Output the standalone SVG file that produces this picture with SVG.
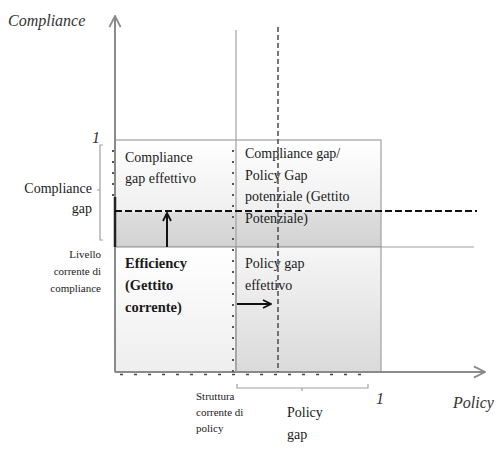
<svg xmlns="http://www.w3.org/2000/svg" width="498" height="450" viewBox="0 0 498 450" font-family="'Liberation Serif', 'Times New Roman', 'DejaVu Serif', serif">
<defs>
<style>
text{font-family:'Liberation Serif','Times New Roman','DejaVu Serif',serif;fill:#1a1a1a}
.lbl{font-size:14px}
.sm{font-size:11px}
.it{font-style:italic;font-size:16px;fill:#333}
.b{font-weight:bold;font-size:14.5px}
.axis{stroke:#8a8a8a;stroke-width:2;fill:none}
.thin{stroke:#a0a0a0;stroke-width:1.2;fill:none}
.dash{stroke:#111;stroke-width:2.2;stroke-dasharray:7,3;fill:none}
.vdash{stroke:#555;stroke-width:1.6;stroke-dasharray:5,3;fill:none}
.dots{stroke:#555;stroke-width:2;stroke-dasharray:2,9;fill:none}
.arr{stroke:#111;stroke-width:2;fill:none}
</style>
<linearGradient id="gTop" x1="0" y1="0" x2="0" y2="1"><stop offset="0" stop-color="#ffffff"/><stop offset="1" stop-color="#efefef"/></linearGradient>
<linearGradient id="gBand" x1="0" y1="0" x2="0" y2="1"><stop offset="0" stop-color="#dedede"/><stop offset="1" stop-color="#d2d2d2"/></linearGradient>
<linearGradient id="gBR" x1="0" y1="0" x2="0" y2="1"><stop offset="0" stop-color="#f6f6f6"/><stop offset="1" stop-color="#dadada"/></linearGradient>
<linearGradient id="gBL" x1="0" y1="0" x2="0" y2="1"><stop offset="0" stop-color="#ffffff"/><stop offset="1" stop-color="#eeeeee"/></linearGradient>
<marker id="ah" viewBox="0 0 10 10" refX="9" refY="5" markerWidth="5" markerHeight="5" orient="auto"><path d="M1,1 L9,5 L1,9" fill="none" stroke="#111" stroke-width="1.8"/></marker>
<marker id="ahg" viewBox="0 0 10 10" refX="9" refY="5" markerWidth="7" markerHeight="7" orient="auto"><path d="M1,1 L9,5 L1,9" fill="none" stroke="#8a8a8a" stroke-width="1.3"/></marker>
</defs>

<g id="region-compliance-gap">
<rect x="115" y="140" width="266" height="72" fill="url(#gTop)"/>
<rect x="115" y="212" width="266" height="35" fill="url(#gBand)"/>
<rect x="115" y="140" width="266" height="107" class="thin"/>
<text class="lbl" x="125" y="162">Compliance</text>
<text class="lbl" x="125" y="183">gap effettivo</text>
</g>

<g id="region-potenziale">
<text class="lbl" x="245" y="158">Compliance gap/</text>
<text class="lbl" x="245" y="180">Policy Gap</text>
<text class="lbl" x="245" y="201">potenziale (Gettito</text>
<text class="lbl" x="245" y="223">Potenziale)</text>
</g>

<g id="region-efficiency">
<rect x="115" y="247" width="121" height="125" class="thin" style="fill:url(#gBL)"/>
<text class="b" x="125" y="268">Efficiency</text>
<text class="b" x="125" y="290">(Gettito</text>
<text class="b" x="125" y="312">corrente)</text>
</g>

<g id="region-policy-gap">
<rect x="236" y="247" width="145" height="125" class="thin" style="fill:url(#gBR)"/>
<text class="lbl" x="245" y="268">Policy gap</text>
<text class="lbl" x="245" y="290">effettivo</text>
</g>

<g id="axis-labels">
<text class="it" x="8" y="26">Compliance</text>
<text class="it" x="92" y="143">1</text>
<text class="lbl" x="92" y="193" text-anchor="end">Compliance</text>
<text class="lbl" x="92" y="213" text-anchor="end">gap</text>
<text class="sm" x="101" y="258" text-anchor="end">Livello</text>
<text class="sm" x="101" y="275" text-anchor="end">corrente di</text>
<text class="sm" x="101" y="292" text-anchor="end">compliance</text>
<text class="sm" x="196" y="400">Struttura</text>
<text class="sm" x="196" y="416">corrente di</text>
<text class="sm" x="196" y="432">policy</text>
<text class="lbl" x="287" y="417">Policy</text>
<text class="lbl" x="287" y="439">gap</text>
<text class="it" x="376" y="404">1</text>
<text class="it" x="453" y="408">Policy</text>
</g>

<g id="connectors">
<line class="axis" x1="115" y1="372" x2="115" y2="16" marker-end="url(#ahg)"/>
<line class="axis" x1="115" y1="372" x2="485" y2="372" marker-end="url(#ahg)"/>
<line x1="120" y1="374.5" x2="372" y2="374.5" stroke="#444" stroke-width="1.5" stroke-dasharray="3,11"/>
<line x1="115" y1="197" x2="115" y2="247" stroke="#222" stroke-width="2.5"/>
<line class="thin" x1="236" y1="30" x2="236" y2="372"/>
<line class="vdash" x1="278" y1="27" x2="278" y2="372"/>
<line class="thin" x1="381" y1="247" x2="474" y2="247"/>
<line class="dash" x1="115" y1="211" x2="477" y2="211"/>
<line class="dots" x1="113" y1="150" x2="113" y2="200"/>
<line class="dots" x1="233" y1="150" x2="233" y2="372"/>
<path class="thin" d="M103,145 L100,145 L100,240 L103,240 M100,190 L97,190"/>
<path class="thin" d="M237,384 L237,388 L368,388 L368,384 M302,388 L302,391"/>
<line class="arr" x1="167" y1="247" x2="167" y2="213" marker-end="url(#ah)"/>
<line class="arr" x1="237" y1="304" x2="271" y2="304" marker-end="url(#ah)"/>
</g>
</svg>
